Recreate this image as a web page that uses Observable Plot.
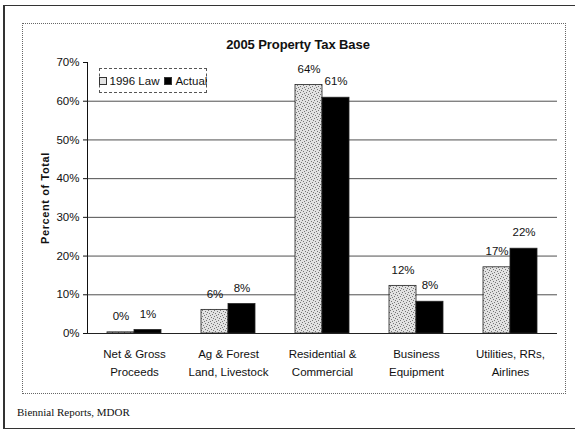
<!DOCTYPE html>
<html>
<head>
<meta charset="utf-8">
<script src="https://cdn.jsdelivr.net/npm/d3@7"></script>
<script src="https://cdn.jsdelivr.net/npm/@observablehq/plot@0.6"></script>
<style>
  html, body { margin: 0; padding: 0; background: #fff; }
  body { width: 575px; height: 431px; position: relative; overflow: hidden; font-family: "Liberation Sans", Arial, sans-serif; color: #111; }
  #outer { position: absolute; left: 3px; top: 5px; width: 580px; height: 422px; border: 1px solid #333; border-right: none; border-left-width: 2px; }
  #inner { position: absolute; left: 22px; top: 23px; width: 542px; height: 369px; border: 1px dotted #666; }
  #title { position: absolute; left: 148px; top: 37px; width: 300px; text-align: center; font-weight: bold; font-size: 13px; letter-spacing: -0.1px; white-space: nowrap; }
  #chart { position: absolute; left: 0; top: 52px; }
  #ylabel { position: absolute; left: 45px; top: 198px; transform: translate(-50%, -50%) rotate(-90deg); white-space: nowrap; font-weight: bold; font-size: 11px; letter-spacing: 0.6px; }
  #legend { position: absolute; left: 99px; top: 68px; width: 108px; height: 25px; border: 1px dashed #555; box-sizing: border-box; display: flex; align-items: center; justify-content: center; gap: 5px; white-space: nowrap; font-family: "Liberation Sans Narrow", "Liberation Sans", Arial, sans-serif; font-size: 11.5px; background: #fff; }
  #legend .sw { display: inline-block; width: 6px; height: 6px; margin-right: 3px; vertical-align: 0px; border: 1px solid #333; }
  #caption { position: absolute; left: 17px; top: 406px; font-family: "Liberation Serif", "Times New Roman", serif; font-size: 11px; }
</style>
</head>
<body>
<div id="outer"></div>
<div id="inner"></div>
<div id="chart"></div>
<div id="title"></div>
<div id="ylabel"></div>
<div id="legend"></div>
<div id="caption"></div>
<script>
const titleText = "2005 Property Tax Base";
const yLabelText = "Percent of Total";
const captionText = "Biennial Reports, MDOR";
const categories = ["Net & Gross\nProceeds", "Ag & Forest\nLand, Livestock", "Residential &\nCommercial", "Business\nEquipment", "Utilities, RRs,\nAirlines"];
const series = ["1996 Law", "Actual"];
const law1996 = [0.3, 6.1, 64.2, 12.3, 17.1];
const actual = [0.9, 7.6, 60.9, 8.2, 21.9];
const yTicks = [0, 10, 20, 30, 40, 50, 60, 70];
const gridTicks = [10, 20, 30, 40, 50, 60];
const seriesFill = {"1996 Law": "url(#stip)", "Actual": "#000"};

const rows = [];
categories.forEach((c, i) => {
  rows.push({cat: c, series: series[0], value: law1996[i]});
  rows.push({cat: c, series: series[1], value: actual[i]});
});

document.getElementById("title").textContent = titleText;
document.getElementById("ylabel").textContent = yLabelText;
document.getElementById("caption").textContent = captionText;
const leg = document.getElementById("legend");
series.forEach(s => {
  const span = document.createElement("span");
  const sw = document.createElement("span");
  sw.className = "sw";
  sw.style.background = s === "Actual" ? "#000" : "#e4e4e4";
  span.appendChild(sw);
  span.appendChild(document.createTextNode(s));
  leg.appendChild(span);
});

const svg = Plot.plot({
  width: 575,
  height: 332,
  marginLeft: 87,
  marginRight: 18,
  marginTop: 10,
  marginBottom: 51,
  style: {fontFamily: "'Liberation Sans', Arial, sans-serif", fontSize: "11.5px", color: "#111", background: "transparent"},
  fx: {domain: categories, padding: 0},
  x: {domain: series, paddingInner: 0, paddingOuter: 0.74, axis: null},
  y: {domain: [0, 70], ticks: yTicks, tickFormat: d => d + "%", tickSize: 4, tickPadding: 4, label: null, line: true},
  color: {type: "identity"},
  marks: [
    Plot.gridY(gridTicks, {stroke: "#222", strokeOpacity: 1, strokeWidth: 0.8}),
    Plot.barY(rows, {fx: "cat", x: "series", y: "value", fill: d => seriesFill[d.series], stroke: "#222", strokeWidth: 0.8}),
    Plot.ruleY([0], {stroke: "#222", strokeWidth: 1}),
    Plot.text(rows, {fx: "cat", x: "series", y: "value", text: d => Math.round(d.value) + "%", dy: -16, fontSize: 11.5, fill: "#111"}),
    Plot.axisFx({anchor: "bottom", tickSize: 0, tickPadding: 11, lineHeight: 1.6, label: null, fontSize: 11.5})
  ]
});

const ns = "http://www.w3.org/2000/svg";
const defs = document.createElementNS(ns, "defs");
const pat = document.createElementNS(ns, "pattern");
pat.setAttribute("id", "stip");
pat.setAttribute("width", "6");
pat.setAttribute("height", "6");
pat.setAttribute("patternUnits", "userSpaceOnUse");
const bg = document.createElementNS(ns, "rect");
bg.setAttribute("width", "6"); bg.setAttribute("height", "6"); bg.setAttribute("fill", "#e2e2e2");
pat.appendChild(bg);
[[0,0],[3,1],[1,3],[4,4],[2,5],[5,2]].forEach(([px, py]) => {
  const r = document.createElementNS(ns, "rect");
  r.setAttribute("x", px); r.setAttribute("y", py);
  r.setAttribute("width", "1"); r.setAttribute("height", "1");
  r.setAttribute("fill", "#777");
  pat.appendChild(r);
});
defs.appendChild(pat);
svg.insertBefore(defs, svg.firstChild);
document.getElementById("chart").appendChild(svg);
</script>
</body>
</html>
